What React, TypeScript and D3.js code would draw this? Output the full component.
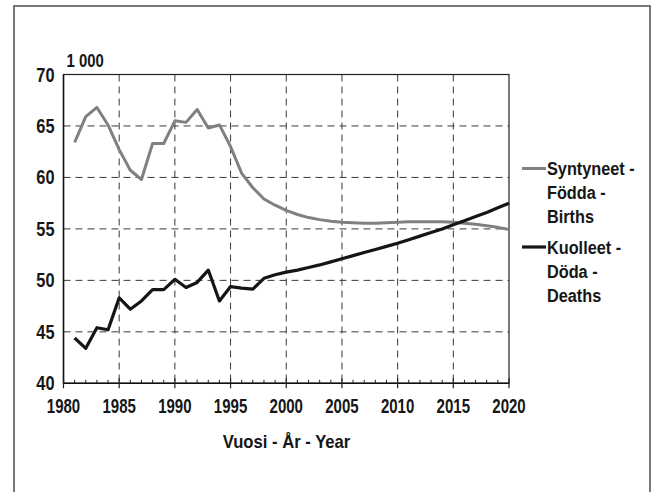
import React from "react";
import * as d3 from "d3";

const years = [
  1981, 1982, 1983, 1984, 1985, 1986, 1987, 1988, 1989, 1990,
  1991, 1992, 1993, 1994, 1995, 1996, 1997, 1998, 1999, 2000,
  2001, 2002, 2003, 2004, 2005, 2006, 2007, 2008, 2009, 2010,
  2011, 2012, 2013, 2014, 2015, 2016, 2017, 2018, 2019, 2020,
];

const births = [
  63.4, 65.9, 66.8, 65.1, 62.7, 60.7, 59.8, 63.3, 63.3, 65.5,
  65.35, 66.6, 64.8, 65.1, 63.0, 60.4, 59.0, 57.9, 57.3, 56.8,
  56.4, 56.1, 55.9, 55.75, 55.65, 55.6, 55.55, 55.55, 55.6, 55.65,
  55.7, 55.7, 55.7, 55.7, 55.65, 55.55, 55.45, 55.3, 55.15, 54.95,
];

const deaths = [
  44.4, 43.4, 45.4, 45.2, 48.3, 47.2, 48.0, 49.1, 49.1, 50.1,
  49.3, 49.8, 51.0, 48.0, 49.4, 49.25, 49.15, 50.2, 50.55, 50.8,
  51.0, 51.25, 51.5, 51.8, 52.1, 52.4, 52.7, 53.0, 53.3, 53.6,
  53.95, 54.3, 54.65, 55.0, 55.4, 55.8, 56.2, 56.6, 57.05, 57.5,
];

const yTicks = [40, 45, 50, 55, 60, 65, 70];
const xTicks = [1980, 1985, 1990, 1995, 2000, 2005, 2010, 2015, 2020];
const minorTicks = [
  1981, 1982, 1983, 1984, 1986, 1987, 1988, 1989, 1991, 1992, 1993, 1994,
  1996, 1997, 1998, 1999, 2001, 2002, 2003, 2004, 2006, 2007, 2008, 2009,
  2011, 2012, 2013, 2014, 2016, 2017, 2018, 2019,
];
const unitLabel = "1 000";
const xTitle = "Vuosi - År - Year";
const legendBirths = ["Syntyneet -", "Födda -", "Births"];
const legendDeaths = ["Kuolleet -", "Döda -", "Deaths"];

const W = 654;
const H = 492;
const L = 63.5, R = 509, T = 74.5, B = 383.3;
const FONT = "'Liberation Sans', Arial, sans-serif";

function T2(props: {
  x: number;
  y: number;
  sx: number;
  size: number;
  anchor?: "start" | "middle" | "end";
  children: React.ReactNode;
}) {
  return (
    <text
      transform={`translate(${props.x},${props.y}) scale(${props.sx},1)`}
      textAnchor={props.anchor || "start"}
      style={{
        fontFamily: FONT,
        fontWeight: "bold",
        fontSize: props.size,
        fill: "#161616",
      }}
    >
      {props.children}
    </text>
  );
}

export default function App() {
  const x = d3.scaleLinear().domain([1980, 2020]).range([L, R]);
  const y = d3.scaleLinear().domain([40, 70]).range([B, T]);
  const line = d3
    .line<number>()
    .x((_, i) => x(years[i]))
    .y((d) => y(d));

  return (
    <svg
      width={W}
      height={H}
      style={{ position: "absolute", left: 0, top: 0, background: "#fff" }}
    >
      <rect x={0} y={0} width={W} height={H} fill="#fff" />
      {/* outer frame */}
      <rect x={14} y={6} width={636} height={H + 10} fill="none" stroke="#555" strokeWidth={1.6} />

      {/* grid */}
      {yTicks
        .filter((v) => v > 40 && v < 70)
        .map((v) => (
          <line
            key={"gy" + v}
            x1={L}
            x2={R}
            y1={y(v)}
            y2={y(v)}
            stroke="#3a3a3a"
            strokeWidth={1}
            strokeDasharray="7,5"
          />
        ))}
      {xTicks
        .filter((v) => v > 1980 && v < 2020)
        .map((v) => (
          <line
            key={"gx" + v}
            x1={x(v)}
            x2={x(v)}
            y1={T}
            y2={B}
            stroke="#3a3a3a"
            strokeWidth={1}
            strokeDasharray="7,5"
          />
        ))}

      {/* plot border */}
      <rect x={L} y={T} width={R - L} height={B - T} fill="none" stroke="#222" strokeWidth={1.2} />
      <line x1={L} x2={R} y1={B} y2={B} stroke="#111" strokeWidth={1.5} />
      <line x1={L} x2={L} y1={T} y2={B} stroke="#111" strokeWidth={1.5} />

      {/* x ticks */}
      {minorTicks.map((v) => (
        <line key={"mt" + v} x1={x(v)} x2={x(v)} y1={B} y2={B - 3.5} stroke="#222" strokeWidth={1} />
      ))}
      {xTicks.map((v) => (
        <line key={"Mt" + v} x1={x(v)} x2={x(v)} y1={B - 5} y2={B + 5} stroke="#222" strokeWidth={1.2} />
      ))}

      {/* series */}
      <path d={line(births) || ""} fill="none" stroke="#808080" strokeWidth={3} strokeLinejoin="round" />
      <path d={line(deaths) || ""} fill="none" stroke="#151515" strokeWidth={3.2} strokeLinejoin="round" />

      {/* y labels */}
      {yTicks.map((v) => (
        <T2 key={"yl" + v} x={L - 9} y={y(v) + 7} sx={0.84} size={19.5} anchor="end">
          {v}
        </T2>
      ))}
      <T2 x={L + 3} y={67.3} sx={0.85} size={17.5}>
        {unitLabel}
      </T2>

      {/* x labels */}
      {xTicks.map((v) => (
        <T2 key={"xl" + v} x={x(v)} y={412.7} sx={0.77} size={19.5} anchor="middle">
          {v}
        </T2>
      ))}
      <T2 x={286.5} y={448} sx={0.9} size={18.5} anchor="middle">
        {xTitle}
      </T2>

      {/* legend */}
      <line x1={522} x2={546} y1={168.5} y2={168.5} stroke="#808080" strokeWidth={3} />
      {legendBirths.map((t, i) => (
        <T2 key={"lb" + i} x={547} y={174.5 + i * 24} sx={0.88} size={18.5}>
          {t}
        </T2>
      ))}
      <line x1={522} x2={546} y1={247} y2={247} stroke="#151515" strokeWidth={3.2} />
      {legendDeaths.map((t, i) => (
        <T2 key={"ld" + i} x={547} y={254 + i * 24} sx={0.88} size={18.5}>
          {t}
        </T2>
      ))}
    </svg>
  );
}
